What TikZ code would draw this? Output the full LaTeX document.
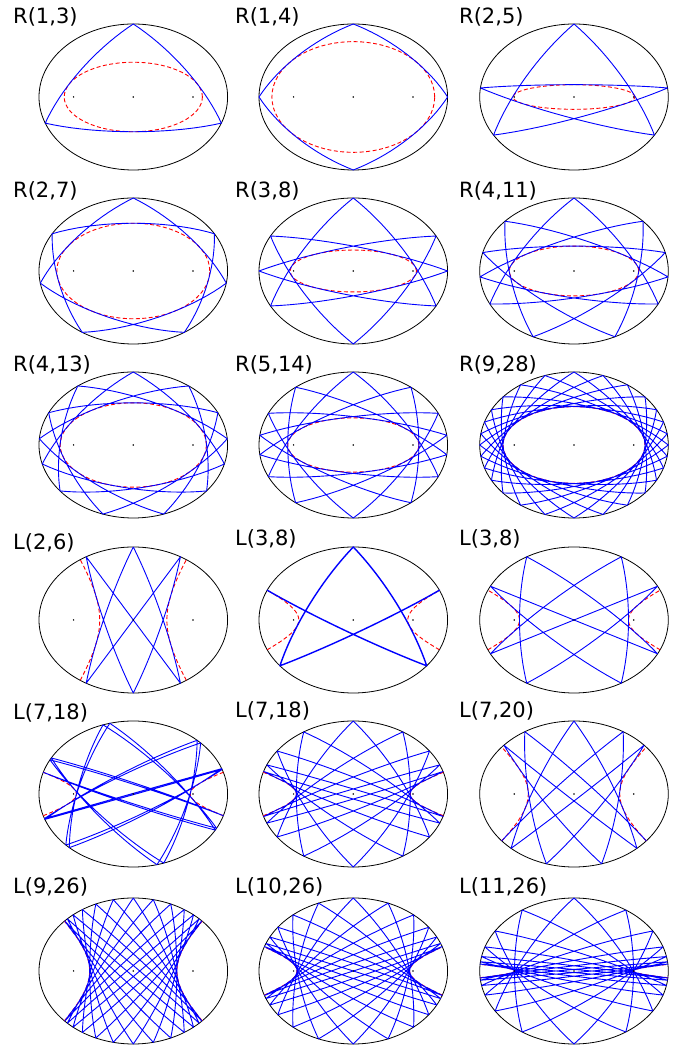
\documentclass[tikz,border=0pt]{standalone}
\usepackage{fontspec}
\setmainfont{DejaVu Sans}
\ExplSyntaxOn
\fp_new:N \g_bb_a_fp
\fp_new:N \g_bb_b_fp
\fp_new:N \g_bb_aa_fp
\fp_new:N \g_bb_bb_fp
\fp_new:N \g_bb_KK_fp
\fp_new:N \g_bb_eps_fp
\fp_gset:Nn \g_bb_a_fp { 94.3 }
\fp_gset:Nn \g_bb_b_fp { 73 }
\fp_gset:Nn \g_bb_aa_fp { \g_bb_a_fp * \g_bb_a_fp }
\fp_gset:Nn \g_bb_bb_fp { \g_bb_b_fp * \g_bb_b_fp }
\fp_gset:Nn \g_bb_KK_fp { 138 * 138 }
\fp_gset:Nn \g_bb_eps_fp { 0.01 }
\clist_map_inline:nn
  { rx, ry, rz, rl, rf, ra, eX, eY, eZ, eE, eF, lam, mu, la, lb, t, rho, target, lo, hi, mid,
    Xa, Xb, Xc, Xd, Ya, Yb, Yc, Yd,
    px, py, qx, qy, th, c, sn, R, S, tmp, k, nx, ny, r, w, P, cx, cy, A, C, yi, y, ux, uy }
  { \fp_new:c { l__bb_#1_fp } }
\bool_new:N \l__bb_hyp_bool
\tl_new:N \l__bb_path_tl
\tl_new:N \bbpath
\tl_new:N \bbcaus

\cs_new_protected:Npn \bb_rf:nnn #1#2#3
  {
    \fp_set:Nn \l__bb_rx_fp {#1}
    \fp_set:Nn \l__bb_ry_fp {#2}
    \fp_set:Nn \l__bb_rz_fp {#3}
    \prg_replicate:nn {15}
      {
        \fp_set:Nn \l__bb_rl_fp
          { sqrt(\l__bb_rx_fp)*sqrt(\l__bb_ry_fp) + sqrt(\l__bb_ry_fp)*sqrt(\l__bb_rz_fp)
            + sqrt(\l__bb_rz_fp)*sqrt(\l__bb_rx_fp) }
        \fp_set:Nn \l__bb_rx_fp { (\l__bb_rx_fp + \l__bb_rl_fp)/4 }
        \fp_set:Nn \l__bb_ry_fp { (\l__bb_ry_fp + \l__bb_rl_fp)/4 }
        \fp_set:Nn \l__bb_rz_fp { (\l__bb_rz_fp + \l__bb_rl_fp)/4 }
      }
    \fp_set:Nn \l__bb_ra_fp { (\l__bb_rx_fp + \l__bb_ry_fp + \l__bb_rz_fp)/3 }
    \fp_set:Nn \l__bb_eX_fp { 1 - \l__bb_rx_fp / \l__bb_ra_fp }
    \fp_set:Nn \l__bb_eY_fp { 1 - \l__bb_ry_fp / \l__bb_ra_fp }
    \fp_set:Nn \l__bb_eZ_fp { - \l__bb_eX_fp - \l__bb_eY_fp }
    \fp_set:Nn \l__bb_eE_fp { \l__bb_eX_fp * \l__bb_eY_fp - \l__bb_eZ_fp * \l__bb_eZ_fp }
    \fp_set:Nn \l__bb_eF_fp { \l__bb_eX_fp * \l__bb_eY_fp * \l__bb_eZ_fp }
    \fp_set:Nn \l__bb_rf_fp
      { (1 - \l__bb_eE_fp/10 + \l__bb_eF_fp/14 + \l__bb_eE_fp*\l__bb_eE_fp/24
          - 3*\l__bb_eE_fp*\l__bb_eF_fp/44) / sqrt(\l__bb_ra_fp) }
  }

% Carlson reduction of a quartic integral, #1 = x - y
\cs_new_protected:Npn \bb_ufour:n #1
  {
    \bb_rf:nnn
      { ((\l__bb_Xa_fp*\l__bb_Xb_fp*\l__bb_Yc_fp*\l__bb_Yd_fp
          + \l__bb_Ya_fp*\l__bb_Yb_fp*\l__bb_Xc_fp*\l__bb_Xd_fp)/(#1))^2 }
      { ((\l__bb_Xa_fp*\l__bb_Xc_fp*\l__bb_Yb_fp*\l__bb_Yd_fp
          + \l__bb_Ya_fp*\l__bb_Yc_fp*\l__bb_Xb_fp*\l__bb_Xd_fp)/(#1))^2 }
      { ((\l__bb_Xa_fp*\l__bb_Xd_fp*\l__bb_Yb_fp*\l__bb_Yc_fp
          + \l__bb_Ya_fp*\l__bb_Yd_fp*\l__bb_Xb_fp*\l__bb_Xc_fp)/(#1))^2 }
  }

\cs_new_protected:Npn \bb_rho:n #1
  {
    \fp_set:Nn \l__bb_lam_fp {#1}
    \fp_set:Nn \l__bb_mu_fp { \g_bb_aa_fp + \g_bb_bb_fp - \g_bb_KK_fp - \l__bb_lam_fp }
    \fp_set:Nn \l__bb_la_fp { min(\l__bb_lam_fp, \g_bb_bb_fp) }
    \fp_set:Nn \l__bb_lb_fp { max(\l__bb_lam_fp, \g_bb_bb_fp) }
    \fp_set:Nn \l__bb_Xa_fp { sqrt(\g_bb_aa_fp - \l__bb_la_fp) }
    \fp_set:Nn \l__bb_Xb_fp { sqrt(\g_bb_bb_fp - \l__bb_la_fp) }
    \fp_set:Nn \l__bb_Xc_fp { sqrt(\l__bb_lam_fp - \l__bb_la_fp) }
    \fp_set:Nn \l__bb_Xd_fp { sqrt(\l__bb_la_fp - \l__bb_mu_fp) }
    \fp_set:Nn \l__bb_Ya_fp { sqrt(\g_bb_aa_fp) }
    \fp_set:Nn \l__bb_Yb_fp { sqrt(\g_bb_bb_fp) }
    \fp_set:Nn \l__bb_Yc_fp { sqrt(\l__bb_lam_fp) }
    \fp_set:Nn \l__bb_Yd_fp { sqrt(- \l__bb_mu_fp) }
    \bb_ufour:n { \l__bb_la_fp }
    \fp_set_eq:NN \l__bb_t_fp \l__bb_rf_fp
    \fp_set:Nn \l__bb_Xa_fp { 0 }
    \fp_set:Nn \l__bb_Xb_fp { sqrt(\g_bb_aa_fp - \g_bb_bb_fp) }
    \fp_set:Nn \l__bb_Xc_fp { sqrt(\g_bb_aa_fp - \l__bb_lam_fp) }
    \fp_set:Nn \l__bb_Xd_fp { sqrt(\g_bb_aa_fp - \l__bb_mu_fp) }
    \fp_set:Nn \l__bb_Ya_fp { sqrt(\g_bb_aa_fp - \l__bb_lb_fp) }
    \fp_set:Nn \l__bb_Yb_fp { sqrt(\l__bb_lb_fp - \g_bb_bb_fp) }
    \fp_set:Nn \l__bb_Yc_fp { sqrt(\l__bb_lb_fp - \l__bb_lam_fp) }
    \fp_set:Nn \l__bb_Yd_fp { sqrt(\l__bb_lb_fp - \l__bb_mu_fp) }
    \bb_ufour:n { \g_bb_aa_fp - \l__bb_lb_fp }
    \fp_set:Nn \l__bb_rho_fp { \l__bb_t_fp / (2*\l__bb_rf_fp) }
  }

\cs_new_protected:Npn \bb_solve:nn #1#2
  {
    \fp_set:Nn \l__bb_target_fp { (#1)/(#2) }
    \bool_if:NTF \l__bb_hyp_bool
      { \fp_set:Nn \l__bb_lo_fp { \g_bb_bb_fp } \fp_set:Nn \l__bb_hi_fp { \g_bb_aa_fp } }
      { \fp_set:Nn \l__bb_lo_fp { 0 } \fp_set:Nn \l__bb_hi_fp { \g_bb_bb_fp } }
    \prg_replicate:nn {40}
      {
        \fp_set:Nn \l__bb_mid_fp { (\l__bb_lo_fp + \l__bb_hi_fp)/2 }
        \bb_rho:n { \l__bb_mid_fp }
        \bool_if:NTF \l__bb_hyp_bool
          {
            \fp_compare:nNnTF { \l__bb_rho_fp } > { \l__bb_target_fp }
              { \fp_set_eq:NN \l__bb_lo_fp \l__bb_mid_fp }
              { \fp_set_eq:NN \l__bb_hi_fp \l__bb_mid_fp }
          }
          {
            \fp_compare:nNnTF { \l__bb_rho_fp } < { \l__bb_target_fp }
              { \fp_set_eq:NN \l__bb_lo_fp \l__bb_mid_fp }
              { \fp_set_eq:NN \l__bb_hi_fp \l__bb_mid_fp }
          }
      }
    \fp_set:Nn \l__bb_lam_fp { (\l__bb_lo_fp + \l__bb_hi_fp)/2 }
  }

\cs_new:Npn \bb_pt:nn #1#2
  { ( \fp_eval:n { round(\l__bb_cx_fp + (#1), 2) } , \fp_eval:n { round(\l__bb_cy_fp + (#2), 2) } ) }

% billiard with a harmonic potential: arcs of centred ellipses, sampled
\cs_new_protected:Npn \bb_orbit:n #1
  {
    \tl_set:Nx \l__bb_path_tl { \bb_pt:nn { \l__bb_px_fp } { \l__bb_py_fp } }
    \prg_replicate:nn {#1}
      {
        \fp_set:Nn \l__bb_R_fp { \l__bb_px_fp*\l__bb_qx_fp/\g_bb_aa_fp + \l__bb_py_fp*\l__bb_qy_fp/\g_bb_bb_fp }
        \fp_set:Nn \l__bb_S_fp { \l__bb_qx_fp*\l__bb_qx_fp/\g_bb_aa_fp + \l__bb_qy_fp*\l__bb_qy_fp/\g_bb_bb_fp }
        \fp_set:Nn \l__bb_th_fp { atan(-2*\l__bb_R_fp, \l__bb_S_fp - 1) }
        \int_step_inline:nnn { 1 } { 18 }
          {
            \fp_set:Nn \l__bb_c_fp { cos(\l__bb_th_fp * ##1 / 18) }
            \fp_set:Nn \l__bb_sn_fp { sin(\l__bb_th_fp * ##1 / 18) }
            \tl_put_right:Nx \l__bb_path_tl
              { -- \bb_pt:nn { \l__bb_px_fp*\l__bb_c_fp + \l__bb_qx_fp*\l__bb_sn_fp }
                             { \l__bb_py_fp*\l__bb_c_fp + \l__bb_qy_fp*\l__bb_sn_fp } }
          }
        \fp_set:Nn \l__bb_tmp_fp { \l__bb_px_fp }
        \fp_set:Nn \l__bb_px_fp { \l__bb_tmp_fp*\l__bb_c_fp + \l__bb_qx_fp*\l__bb_sn_fp }
        \fp_set:Nn \l__bb_qx_fp { - \l__bb_tmp_fp*\l__bb_sn_fp + \l__bb_qx_fp*\l__bb_c_fp }
        \fp_set:Nn \l__bb_tmp_fp { \l__bb_py_fp }
        \fp_set:Nn \l__bb_py_fp { \l__bb_tmp_fp*\l__bb_c_fp + \l__bb_qy_fp*\l__bb_sn_fp }
        \fp_set:Nn \l__bb_qy_fp { - \l__bb_tmp_fp*\l__bb_sn_fp + \l__bb_qy_fp*\l__bb_c_fp }
        \fp_set:Nn \l__bb_r_fp { sqrt(\l__bb_px_fp^2/\g_bb_aa_fp + \l__bb_py_fp^2/\g_bb_bb_fp) }
        \fp_set:Nn \l__bb_px_fp { \l__bb_px_fp / \l__bb_r_fp }
        \fp_set:Nn \l__bb_py_fp { \l__bb_py_fp / \l__bb_r_fp }
        \fp_set:Nn \l__bb_nx_fp { \l__bb_px_fp/\g_bb_aa_fp }
        \fp_set:Nn \l__bb_ny_fp { \l__bb_py_fp/\g_bb_bb_fp }
        \fp_set:Nn \l__bb_k_fp
          { 2*(\l__bb_qx_fp*\l__bb_nx_fp + \l__bb_qy_fp*\l__bb_ny_fp)
            /(\l__bb_nx_fp*\l__bb_nx_fp + \l__bb_ny_fp*\l__bb_ny_fp) }
        \fp_set:Nn \l__bb_qx_fp { \l__bb_qx_fp - \l__bb_k_fp*\l__bb_nx_fp }
        \fp_set:Nn \l__bb_qy_fp { \l__bb_qy_fp - \l__bb_k_fp*\l__bb_ny_fp }
      }
    \tl_gset_eq:NN \bbpath \l__bb_path_tl
  }

\cs_new_protected:Npn \bb_hyper:
  {
    \fp_set:Nn \l__bb_A_fp { sqrt(\g_bb_aa_fp - \l__bb_lam_fp) }
    \fp_set:Nn \l__bb_C_fp { sqrt(\l__bb_lam_fp - \g_bb_bb_fp) }
    \fp_set:Nn \l__bb_yi_fp { \g_bb_b_fp * \l__bb_C_fp / sqrt(\g_bb_aa_fp - \g_bb_bb_fp) }
    \tl_clear:N \l__bb_path_tl
    \clist_map_inline:nn { 1, -1 }
      {
        \int_step_inline:nnn { 0 } { 40 }
          {
            \fp_set:Nn \l__bb_y_fp { \l__bb_yi_fp * (2 * ####1 / 40 - 1) }
            \fp_set:Nn \l__bb_tmp_fp
              { (##1) * \l__bb_A_fp * sqrt(1 + (\l__bb_y_fp / \l__bb_C_fp)^2) }
            \int_compare:nNnTF { ####1 } = { 0 }
              { \tl_put_right:Nx \l__bb_path_tl { ~ \bb_pt:nn { \l__bb_tmp_fp } { \l__bb_y_fp } } }
              { \tl_put_right:Nx \l__bb_path_tl { -- \bb_pt:nn { \l__bb_tmp_fp } { \l__bb_y_fp } } }
          }
      }
    \tl_gset_eq:NN \bbcaus \l__bb_path_tl
  }

\cs_new_protected:Npn \bb_ellcaus:
  {
    \tl_gset:Nx \bbcaus
      {
        \bb_pt:nn {0} {0} ~ ellipse ~
        [ x~radius = \fp_eval:n { round(sqrt(\g_bb_aa_fp - \l__bb_lam_fp), 3) } ,
          ~ y~radius = \fp_eval:n { round(sqrt(\g_bb_bb_fp - \l__bb_lam_fp), 3) } ]
      }
  }

\cs_new_protected:Npn \bb_start_x:
  {
    \fp_set:Nn \l__bb_A_fp { sqrt(\g_bb_aa_fp - \l__bb_lam_fp) }
    \fp_set:Nn \l__bb_w_fp { sqrt(\g_bb_KK_fp - \l__bb_A_fp^2) }
    \fp_set:Nn \l__bb_P_fp { \l__bb_A_fp^2 / \g_bb_aa_fp }
    \fp_set:Nn \l__bb_S_fp { \l__bb_w_fp^2 / \g_bb_bb_fp }
    \fp_set:Nn \l__bb_th_fp { asin(sqrt((1 - \l__bb_P_fp)/(\l__bb_S_fp - \l__bb_P_fp))) }
    \fp_set:Nn \l__bb_px_fp { \l__bb_A_fp * cos(\l__bb_th_fp) }
    \fp_set:Nn \l__bb_py_fp { \l__bb_w_fp * sin(\l__bb_th_fp) }
    \fp_set:Nn \l__bb_qx_fp { \l__bb_A_fp * sin(\l__bb_th_fp) }
    \fp_set:Nn \l__bb_qy_fp { - \l__bb_w_fp * cos(\l__bb_th_fp) }
  }
\cs_new_protected:Npn \bb_start_v:
  {
    \fp_set:Nn \l__bb_w_fp { sqrt(\g_bb_KK_fp - \g_bb_bb_fp) }
    \fp_set:Nn \l__bb_c_fp
      { (\g_bb_aa_fp - \l__bb_lam_fp)*(\l__bb_w_fp^2 + \l__bb_lam_fp)
        / (\g_bb_aa_fp * \l__bb_w_fp^2) }
    \fp_set:Nn \l__bb_px_fp { 0 }
    \fp_set:Nn \l__bb_py_fp { \g_bb_b_fp }
    \fp_set:Nn \l__bb_qx_fp { \l__bb_w_fp * sqrt(\l__bb_c_fp) }
    \fp_set:Nn \l__bb_qy_fp { - \l__bb_w_fp * sqrt(1 - \l__bb_c_fp) }
  }
% start perpendicular to the boundary where the caustic meets it (slightly perturbed)
\cs_new_protected:Npn \bb_start_p:
  {
    \fp_set:Nn \l__bb_A_fp { sqrt(\g_bb_aa_fp - \l__bb_lam_fp) }
    \fp_set:Nn \l__bb_C_fp { sqrt(\l__bb_lam_fp - \g_bb_bb_fp) }
    \fp_set:Nn \l__bb_px_fp { - \g_bb_a_fp * \l__bb_A_fp / sqrt(\g_bb_aa_fp - \g_bb_bb_fp) }
    \fp_set:Nn \l__bb_py_fp { \g_bb_b_fp * \l__bb_C_fp / sqrt(\g_bb_aa_fp - \g_bb_bb_fp) }
    \fp_set:Nn \l__bb_nx_fp { \l__bb_px_fp / \g_bb_aa_fp }
    \fp_set:Nn \l__bb_ny_fp { \l__bb_py_fp / \g_bb_bb_fp }
    \fp_set:Nn \l__bb_r_fp { sqrt(\l__bb_nx_fp^2 + \l__bb_ny_fp^2) }
    \fp_set:Nn \l__bb_ux_fp { - \l__bb_nx_fp / \l__bb_r_fp }
    \fp_set:Nn \l__bb_uy_fp { - \l__bb_ny_fp / \l__bb_r_fp }
    \fp_set:Nn \l__bb_w_fp { sqrt(\g_bb_KK_fp - \l__bb_px_fp^2 - \l__bb_py_fp^2) }
    \fp_set:Nn \l__bb_qx_fp
      { \l__bb_w_fp * (\l__bb_ux_fp*cos(\g_bb_eps_fp) - \l__bb_uy_fp*sin(\g_bb_eps_fp)) }
    \fp_set:Nn \l__bb_qy_fp
      { \l__bb_w_fp * (\l__bb_ux_fp*sin(\g_bb_eps_fp) + \l__bb_uy_fp*cos(\g_bb_eps_fp)) }
  }

\cs_new_protected:Npn \bbcompute #1#2#3#4#5#6
  {
    \fp_set:Nn \l__bb_cx_fp {#5}
    \fp_set:Nn \l__bb_cy_fp { 1047 - (#6) }
    \str_if_eq:nnTF {#1} {H}
      { \bool_set_true:N \l__bb_hyp_bool }
      { \bool_set_false:N \l__bb_hyp_bool }
    \bb_solve:nn {#2} {#3}
    \bool_if:NTF \l__bb_hyp_bool { \bb_hyper: } { \bb_ellcaus: }
    \str_case:nn {#4}
      {
        {X} { \bb_start_x: }
        {V} { \bb_start_v: }
        {P} { \bb_start_p: }
      }
    \bb_orbit:n {#3}
  }
\ExplSyntaxOff

\def\bbextra{}
% #1 cx, #2 cy (pixels from top), #3 label x, #4 label baseline, #5 label,
% #6 E/H caustic, #7 m, #8 n, #9 start type
\newcommand\bbpanel[9]{%
  \bbcompute{#6}{#7}{#8}{#9}{#1}{#2}%
  \draw[bd] (#1,{1047-#2}) ellipse [x radius=94.3, y radius=73];
  \edef\bbtmp{\noexpand\draw[caus] \bbcaus;}\bbtmp
  \edef\bbtmp{\noexpand\draw[traj,\bbextra] \bbpath;}\bbtmp
  \fill (#1,{1047-#2}) circle [radius=0.85];
  \fill ({#1-59.7},{1047-#2}) circle [radius=0.85];
  \fill ({#1+59.7},{1047-#2}) circle [radius=0.85];
  \node[lbl] (lab-#7-#8-#9) at (#3,{1047-#4}) {#5};
}

\begin{document}
\begin{tikzpicture}[x=1pt,y=1pt,
  bd/.style={black, line width=0.8pt},
  caus/.style={red, line width=0.9pt, dash pattern=on 4pt off 2.5pt},
  traj/.style={blue, line width=0.9pt, line join=round},
  lbl/.style={anchor=base west, inner sep=0pt, font=\fontsize{21}{25}\selectfont}]
\useasboundingbox (0,0) rectangle (684,1047);
\fill[white] (0,0) rectangle (684,1047);
\bbpanel{133.3}{97}{13}{24}{R(1,3)}{E}{1}{3}{V}
\bbpanel{353.3}{97}{235}{24}{R(1,4)}{E}{1}{4}{V}
\bbpanel{574}{97}{459}{24}{R(2,5)}{E}{2}{5}{V}
\bbpanel{133.3}{271}{13}{198}{R(2,7)}{E}{2}{7}{V}
\bbpanel{353.3}{271}{235}{198}{R(3,8)}{E}{3}{8}{V}
\bbpanel{574}{271}{459}{198}{R(4,11)}{E}{4}{11}{V}
\bbpanel{133.3}{445}{13}{372}{R(4,13)}{E}{4}{13}{V}
\bbpanel{353.3}{445}{235}{372}{R(5,14)}{E}{5}{14}{V}
\bbpanel{574}{445}{459}{372}{R(9,28)}{E}{9}{28}{V}
\bbpanel{133.3}{620}{13}{550}{L(2,6)}{H}{2}{6}{V}
\def\bbextra{line width=1.4pt}
\bbpanel{353.3}{620}{235}{546}{L(3,8)}{H}{3}{8}{V}
\def\bbextra{}
\bbpanel{574}{620}{459}{546}{L(3,8)}{H}{3}{8}{X}
\bbpanel{133.3}{794}{13}{720}{L(7,18)}{H}{7}{18}{P}
\bbpanel{353.3}{794}{235}{718}{L(7,18)}{H}{7}{18}{V}
\bbpanel{574}{794}{459}{718}{L(7,20)}{H}{7}{20}{V}
\bbpanel{133.3}{971}{13}{894}{L(9,26)}{H}{9}{26}{V}
\bbpanel{353.3}{971}{235}{894}{L(10,26)}{H}{10}{26}{V}
\bbpanel{574}{971}{459}{894}{L(11,26)}{H}{11}{26}{V}
\end{tikzpicture}
\end{document}
